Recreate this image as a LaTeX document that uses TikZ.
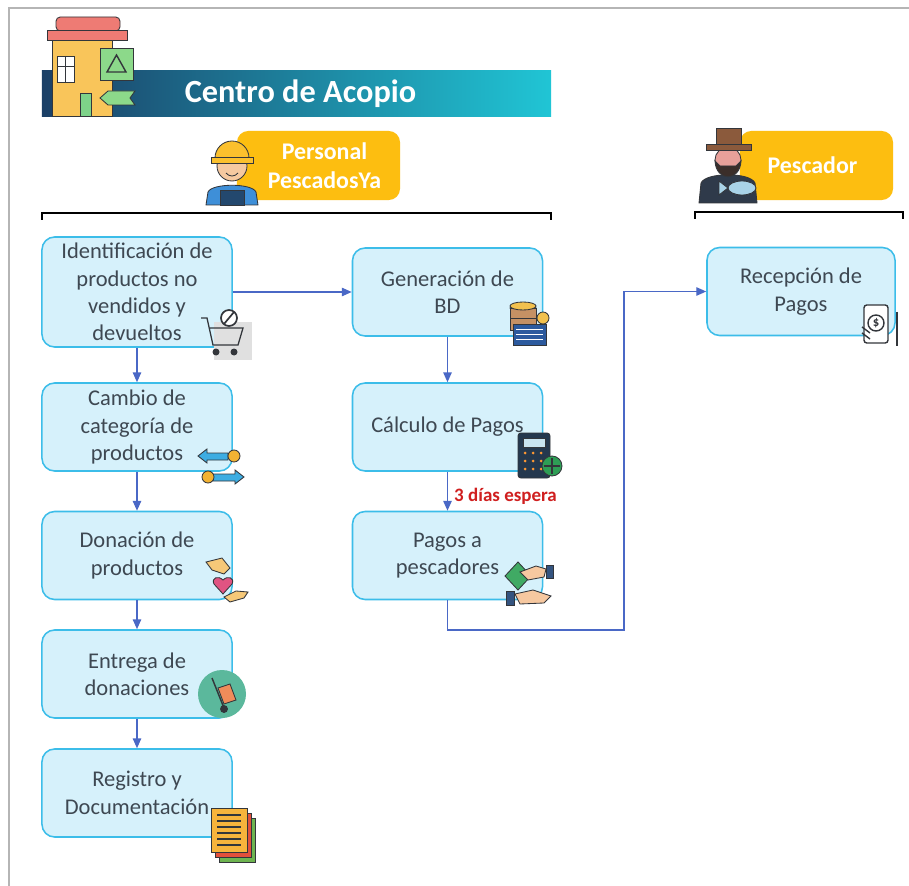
\documentclass[tikz,border=0pt]{standalone}
\usepackage{fontspec}
\setmainfont{Carlito}
\usetikzlibrary{arrows.meta}

\definecolor{cajafondo}{HTML}{D6F1FB}
\definecolor{cajaborde}{HTML}{3CBDE9}
\definecolor{textogris}{HTML}{3E4852}
\definecolor{flecha}{HTML}{4A68C6}
\definecolor{amarillo}{HTML}{FDBE10}
\definecolor{rojo}{HTML}{D01F1F}
\definecolor{marco}{HTML}{B5B5B5}
\definecolor{contorno}{HTML}{33363B}
\definecolor{bandaizq}{HTML}{1B3F66}
\definecolor{bandamed}{HTML}{10708F}
\definecolor{bandader}{HTML}{20C5D5}

\tikzset{
  paso/.style={draw=cajaborde, line width=1.1pt, fill=cajafondo, rounded corners=9pt,
    minimum width=4.75cm, minimum height=2.2cm, align=center, text=textogris,
    font=\fontsize{16}{19.5}\selectfont, inner sep=2pt},
  flujo/.style={draw=flecha, line width=0.9pt, -{Triangle[length=7pt,width=6pt]}},
  rol/.style={fill=amarillo, rounded corners=8pt, text=white, align=center,
    font=\bfseries\fontsize{17}{20.7}\selectfont, minimum height=1.725cm},
  corchete/.style={line width=2pt, black},
  icono/.style={draw=contorno, line width=0.6pt},
}

\begin{document}
\begin{tikzpicture}[x=0.025cm, y=-0.025cm]
\useasboundingbox (0,0) rectangle (909,886);
\fill[white] (0,0) rectangle (909,886);
\draw[marco, line width=1.6pt] (9,886) -- (9,8) -- (909,8);

% cabecera
\node[shade, left color=bandaizq, middle color=bandamed, right color=bandader,
  minimum width=12.725cm, minimum height=1.125cm, text=white,
  font=\bfseries\fontsize{23}{26}\selectfont] (titulo) at (296.5,93.5) {\hspace*{0.2cm}Centro de Acopio};
% edificio
\draw[icono, fill={rgb,255:red,249;green,197;blue,90}] (52,36) rectangle (112,116);
\draw[icono, fill={rgb,255:red,238;green,123;blue,116}, rounded corners=3pt] (56,17) rectangle (120,31);
\draw[icono, fill={rgb,255:red,238;green,123;blue,116}] (47,30) rectangle (127,40);
\draw[icono, fill=white] (57,56) rectangle (74,82);
\draw[icono] (65.5,56) -- (65.5,82) (57,66) -- (74,66);
\draw[icono, fill={rgb,255:red,126;green,211;blue,137}] (80,93) rectangle (91,116);
\draw[icono, fill={rgb,255:red,140;green,217;blue,138}] (100,48) rectangle (133,80);
\draw[icono, line width=1pt] (116.5,55) -- (126,72) -- (107,72) -- cycle;
\draw[icono, fill={rgb,255:red,140;green,217;blue,138}] (100,98) -- (108,91) -- (135,91) -- (130,98) -- (135,105) -- (108,105) -- cycle;

% roles
\node[rol, minimum width=4.075cm] (personal) at (318.5,165.5) {\hspace*{0.3cm}Personal\\\hspace*{0.3cm}PescadosYa};
\node[rol, minimum width=3.825cm] (pescador) at (816.5,165.5) {\hspace*{-0.2cm}Pescador};

% trabajador
\draw[icono, fill={rgb,255:red,62;green,143;blue,216}] (206,205) -- (208,192) .. controls (212,183) and (252,183) .. (256,192) -- (258,205) -- cycle;
\draw[icono, fill={rgb,255:red,35;green,72;blue,110}] (220,190) rectangle (244,205);
\draw[icono, fill={rgb,255:red,246;green,201;blue,160}] (232,166) circle (15);
\draw[icono, fill={rgb,255:red,251;green,192;blue,45}] (215,158) arc (180:360:17) -- cycle;
\draw[icono, fill={rgb,255:red,251;green,192;blue,45}] (211,157) rectangle (253,163);
\draw[icono] (226,173) .. controls (229,177) and (235,177) .. (238,173);

% pescador
\draw[icono, fill={rgb,255:red,47;green,58;blue,74}] (699,203) -- (701,183) .. controls (706,172) and (750,172) .. (755,183) -- (757,203) -- cycle;
\draw[icono, fill={rgb,255:red,232;green,160;blue,154}] (728,160) circle (13);
\draw[icono, fill={rgb,255:red,59;green,46;blue,42}] (715,161) .. controls (716,182) and (740,182) .. (741,161) -- (736,166) -- (720,166) -- cycle;
\draw[icono, fill={rgb,255:red,139;green,90;blue,60}] (716,128) rectangle (741,145);
\draw[icono, fill={rgb,255:red,139;green,90;blue,60}] (706,144) rectangle (751,150);
\draw[icono, fill={rgb,255:red,169;green,211;blue,232}] (742,188) ellipse (14 and 7);
\draw[icono, fill={rgb,255:red,169;green,211;blue,232}] (728,188) -- (719,181) -- (719,195) -- cycle;

% llaves
\draw[corchete] (42,220) -- (42,213) -- (551,213) -- (551,220);
\draw[corchete] (695,219) -- (695,212) -- (903,212) -- (903,219);

% pasos
\node[paso, minimum height=2.75cm] (P_0_0) at (137,292) {Identificación de\\productos no\\vendidos y\\devueltos};
\node[paso] (P_1_0) at (447.5,292) {Generación de\\BD};
\node[paso] (P_0_1) at (137,427) {Cambio de\\categoría de\\productos};
\node[paso] (P_1_1) at (447.5,427) {Cálculo de Pagos};
\node[paso] (P_0_2) at (137,555.5) {Donación de\\productos};
\node[paso] (P_1_2) at (447.5,555.5) {Pagos a\\pescadores};
\node[paso] (P_0_3) at (137,674) {Entrega de\\donaciones};
\node[paso] (P_0_4) at (137,793) {Registro y\\Documentación};
\node[paso, minimum width=4.7cm] (P_2_0) at (801,291.5) {Recepción de\\Pagos};

% conectores
\draw[flujo] (P_0_0) -- (P_1_0);
\draw[flujo] (P_0_0) -- (P_0_1);
\draw[flujo] (P_0_1) -- (P_0_2);
\draw[flujo] (P_0_2) -- (P_0_3);
\draw[flujo] (P_0_3) -- (P_0_4);
\draw[flujo] (P_1_0) -- (P_1_1);
\draw[flujo] (P_1_1) -- (P_1_2) node[pos=0.62, right=1pt, text=rojo, font=\bfseries\fontsize{13.5}{16}\selectfont] {3 días espera};
\coordinate (codo) at (624,630);
\draw[flujo] (P_1_2.south) |- (codo) |- (P_2_0.west);

% carrito
\fill[black!12] (214,322) rectangle (252,360);
\draw[icono, line width=0.9pt] (201,318) -- (207,318) -- (213,345) -- (238,345) -- (243,328) -- (209,328);
\fill[contorno] (216,352) circle (3.5) (234,352) circle (3.5);
\draw[icono, line width=1.2pt, fill=white] (229,318) circle (8);
\draw[icono, line width=1.2pt] (224,324) -- (234,312);

% base de datos
\draw[icono, fill={rgb,255:red,197;green,145;blue,100}] (510,318) rectangle (536,330);
\draw[icono, fill={rgb,255:red,242;green,193;blue,78}] (523,308) ellipse (13 and 5);
\draw[icono, fill={rgb,255:red,197;green,145;blue,100}] (510,308) rectangle (536,318);
\draw[icono, fill={rgb,255:red,242;green,193;blue,78}] (523,306) ellipse (13 and 4);
\draw[icono, fill={rgb,255:red,242;green,193;blue,78}] (543,318) circle (6);
\draw[icono, fill={rgb,255:red,44;green,90;blue,158}] (513,324) rectangle (546,345);
\foreach \y in {329,334,339} \draw[white, line width=0.6pt] (516,\y) -- (543,\y);

% calculadora
\draw[icono, fill={rgb,255:red,36;green,56;blue,78}, rounded corners=2pt] (518,433) rectangle (550,478);
\draw[icono, fill={rgb,255:red,200;green,228;blue,240}] (523,438) rectangle (545,447);
\foreach \x in {525,533,541} \foreach \y in {453,461,469} \fill[orange!80] (\x,\y) circle (1.5);
\draw[icono, fill={rgb,255:red,46;green,158;blue,85}] (552,466) circle (10);
\draw[contorno, line width=0.8pt] (552,458) -- (552,474) (544,466) -- (560,466);

% intercambio
\draw[icono, fill={rgb,255:red,61;green,173;blue,226}] (198,456) -- (207,449) -- (207,453) -- (228,453) -- (228,460) -- (207,460) -- (207,463) -- cycle;
\draw[icono, fill={rgb,255:red,242;green,178;blue,51}] (234,456) circle (6);
\draw[icono, fill={rgb,255:red,61;green,173;blue,226}] (244,477) -- (235,470) -- (235,474) -- (213,474) -- (213,481) -- (235,481) -- (235,484) -- cycle;
\draw[icono, fill={rgb,255:red,242;green,178;blue,51}] (208,477) circle (6);

% donacion
\draw[icono, fill={rgb,255:red,246;green,200;blue,120}] (206,562) -- (222,558) -- (230,568) -- (224,574) -- (212,570) -- cycle;
\draw[icono, fill={rgb,255:red,224;green,84;blue,130}] (223,594) -- (214,584) .. controls (211,578) and (218,575) .. (223,580) .. controls (228,575) and (235,578) .. (232,584) -- cycle;
\draw[icono, fill={rgb,255:red,246;green,200;blue,120}] (224,597) -- (236,591) -- (248,592) -- (244,598) -- (230,602) -- cycle;

% pago en mano
\draw[icono, fill={rgb,255:red,64;green,170;blue,100}] (505,576) -- (518,562) -- (531,576) -- (518,590) -- cycle;
\draw[icono, fill={rgb,255:red,246;green,200;blue,160}] (520,572) -- (536,566) -- (546,569) -- (544,577) -- (528,580) -- cycle;
\draw[icono, fill={rgb,255:red,52;green,84;blue,128}] (546,565) rectangle (553,578);
\draw[icono, fill={rgb,255:red,246;green,200;blue,160}] (515,594) -- (533,590) -- (551,596) -- (544,603) -- (520,604) -- cycle;
\draw[icono, fill={rgb,255:red,52;green,84;blue,128}] (506,591) rectangle (514,605);

% carretilla
\fill[fill={rgb,255:red,91;green,184;blue,156}] (222,694) circle (24);
\draw[icono, line width=1pt] (212,678) -- (224,708);
\draw[icono, fill={rgb,255:red,240;green,140;blue,90}] (218,688) -- (230,684) -- (236,700) -- (224,704) -- cycle;
\draw[icono, fill=contorno] (224,709) circle (3.5);

% documentos
\draw[icono, fill={rgb,255:red,110;green,180;blue,80}] (219,818) rectangle (255,862);
\draw[icono, fill={rgb,255:red,226;green,80;blue,60}] (215,813) rectangle (251,857);
\draw[icono, fill={rgb,255:red,247;green,180;blue,60}] (211,808) rectangle (247,852);
\foreach \y in {815,821,827,833,839,845} \draw[contorno, line width=1pt] (217,\y) -- (241,\y);

% cobro en celular
\draw[icono, line width=1pt, fill=white, rounded corners=2pt] (864,305) rectangle (888,343);
\draw[icono, line width=1pt] (876,323) circle (8);
\node[font=\bfseries\fontsize{9}{9}\selectfont, text=contorno, inner sep=0pt] (signo) at (876,323.5) {\$};
\draw[icono, line width=1pt] (862,327) -- (870,333) (862,333) -- (870,339);
\draw[icono, line width=1pt] (897,312) -- (897,346);

\end{tikzpicture}
\end{document}
